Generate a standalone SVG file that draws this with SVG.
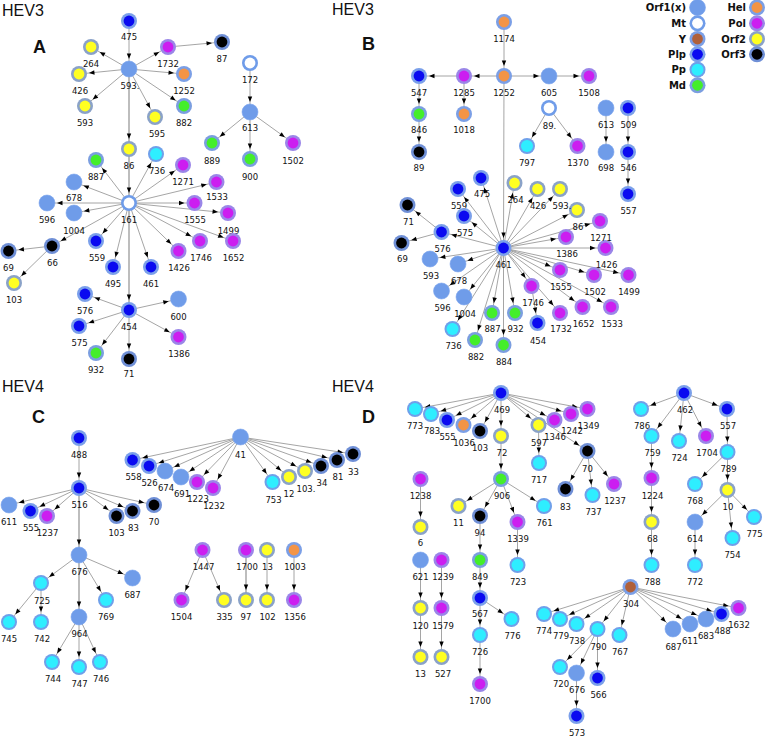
<svg xmlns="http://www.w3.org/2000/svg" xmlns:xlink="http://www.w3.org/1999/xlink" width="766" height="736" viewBox="0 0 766 736">
<style>
.lb{font-family:"DejaVu Sans",Verdana,sans-serif;font-size:8.5px;text-anchor:middle;fill:#111}
.lg{font-family:"DejaVu Sans",Verdana,sans-serif;font-size:10px;font-weight:bold;text-anchor:end;fill:#111}
.ttl{font-family:"Liberation Sans",Arial,sans-serif;font-size:16px;fill:#111}
.pl{font-family:"Liberation Sans",Arial,sans-serif;font-size:18px;font-weight:bold;fill:#111}
.e{stroke:#8e8e8e;stroke-width:0.8;fill:none;marker-end:url(#ah)}
.t{stroke:#bdbdbd;stroke-width:2}
</style>
<defs>
<marker id="ah" viewBox="0 0 20 6" refX="20" refY="3" markerWidth="20" markerHeight="6" markerUnits="userSpaceOnUse" orient="auto"><path d="M4.5,0.8 L10,3 L4.5,5.2 z" fill="#000"/></marker>
<g id="s-orf1"><circle r="8" fill="#6f9ce9" stroke="#7ea6ee" stroke-width="0.6"/></g>
<g id="s-mt"><circle r="8" fill="#6f9ce9"/><circle r="5.4" fill="#fff"/></g>
<g id="s-y"><circle r="8" fill="#7b9fe6"/><circle r="5.4" fill="#b0603a"/></g>
<g id="s-plp"><circle r="8" fill="#7ba0ea"/><circle r="5.4" fill="#0a0af0"/></g>
<g id="s-pp"><circle r="8" fill="#6fa0ea"/><circle r="6" fill="#2eeeff"/></g>
<g id="s-md"><circle r="8" fill="#7b9ee0"/><circle r="5.4" fill="#44ee2a"/></g>
<g id="s-hel"><circle r="8" fill="#7b9fe6"/><circle r="5.4" fill="#f39446"/></g>
<g id="s-pol"><circle r="8" fill="#9a86e8"/><circle r="5.4" fill="#cc1ef0"/></g>
<g id="s-orf2"><circle r="8" fill="#8aa2c8"/><circle r="5.4" fill="#ffff22"/></g>
<g id="s-orf3"><circle r="8" fill="#6f8fd6"/><circle r="5.4" fill="#000"/></g>
</defs>
<rect width="766" height="736" fill="#fff"/>

<g id="titles">
<text class="ttl" x="2" y="16">HEV3</text><text class="pl" x="33" y="53">A</text>
<text class="ttl" x="332" y="15">HEV3</text><text class="pl" x="362" y="50">B</text>
<text class="ttl" x="2" y="392">HEV4</text><text class="pl" x="32" y="423">C</text>
<text class="ttl" x="332" y="392">HEV4</text><text class="pl" x="362" y="423">D</text>
</g>

<g id="legend">
<text class="lg" x="686" y="11">Orf1(x)</text><use href="#s-orf1" x="697.5" y="7.5"/>
<text class="lg" x="686" y="27">Mt</text><use href="#s-mt" x="697.5" y="23.3"/>
<text class="lg" x="686" y="42.7">Y</text><use href="#s-y" x="697.5" y="39"/>
<text class="lg" x="686" y="58">Plp</text><use href="#s-plp" x="697.5" y="54.3"/>
<text class="lg" x="686" y="73.4">Pp</text><use href="#s-pp" x="697.5" y="69.7"/>
<text class="lg" x="686" y="89">Md</text><use href="#s-md" x="697.5" y="85.3"/>
<text class="lg" x="746" y="11">Hel</text><use href="#s-hel" x="757" y="7.5"/>
<text class="lg" x="746" y="27">Pol</text><use href="#s-pol" x="757" y="23.3"/>
<text class="lg" x="746" y="42.7">Orf2</text><use href="#s-orf2" x="757" y="39"/>
<text class="lg" x="746" y="58">Orf3</text><use href="#s-orf3" x="757" y="54.3"/>
</g>

<g id="connectors">
<!-- A -->
<path class="e" d="M129,21 L129,69"/>
<path class="e" d="M129,69 L91,47"/>
<path class="e" d="M129,69 L79,74"/>
<path class="e" d="M129,69 L85,106"/>
<path class="e" d="M129,69 L155,117"/>
<path class="e" d="M129,69 L184,106"/>
<path class="e" d="M129,69 L184,74"/>
<path class="e" d="M129,69 L168,47"/>
<path class="e t" d="M129,69 L129,149"/>
<path class="e" d="M168,47 L222,42"/>
<path class="e" d="M250,63 L250,112"/>
<path class="e" d="M250,112 L212,143"/>
<path class="e" d="M250,112 L250,159"/>
<path class="e" d="M250,112 L293,143"/>
<path class="e t" d="M129,149 L129,203"/>
<path class="e" d="M129,203 L96,160"/>
<path class="e" d="M129,203 L156,154"/>
<path class="e" d="M129,203 L183,165"/>
<path class="e" d="M129,203 L216.5,182"/>
<path class="e" d="M129,203 L74,182"/>
<path class="e" d="M129,203 L47,203"/>
<path class="e" d="M129,203 L74,213"/>
<path class="e" d="M129,203 L194.5,203"/>
<path class="e" d="M129,203 L228,213"/>
<path class="e" d="M129,203 L52,246"/>
<path class="e" d="M129,203 L96,241"/>
<path class="e" d="M129,203 L113,267"/>
<path class="e" d="M129,203 L151,267"/>
<path class="e" d="M129,203 L178.5,251"/>
<path class="e" d="M129,203 L200,241"/>
<path class="e" d="M129,203 L233,241"/>
<path class="e t" d="M129,203 L129,310"/>
<path class="e" d="M52,246 L8.5,251"/>
<path class="e" d="M52,246 L14,283"/>
<path class="e" d="M129,310 L85,294"/>
<path class="e" d="M129,310 L178.5,299"/>
<path class="e" d="M129,310 L79,326"/>
<path class="e" d="M129,310 L178.5,337"/>
<path class="e" d="M129,310 L96,353"/>
<path class="e" d="M129,310 L129,359"/>
<!-- B -->
<path class="e" d="M504,22 L504,76"/>
<path class="e" d="M504,76 L464,76"/>
<path class="e" d="M464,76 L419,76"/>
<path class="e" d="M504,76 L549,76"/>
<path class="e" d="M549,76 L589,76"/>
<path class="e" d="M419,76 L419,114"/>
<path class="e" d="M419,114 L419,152"/>
<path class="e" d="M464,76 L464,114"/>
<path class="e" d="M549,108 L527,146"/>
<path class="e" d="M549,108 L577.5,146"/>
<path class="e" d="M606,108 L606,152"/>
<path class="e" d="M628,108 L628,152"/>
<path class="e" d="M628,152 L628,194"/>
<path class="e" d="M504,76 L503.5,248"/>
<path class="e" d="M503.5,248 L481,178"/>
<path class="e" d="M503.5,248 L458,189"/>
<path class="e" d="M503.5,248 L464,216"/>
<path class="e" d="M503.5,248 L441.5,232"/>
<path class="e" d="M503.5,248 L430,259"/>
<path class="e" d="M503.5,248 L458,264"/>
<path class="e" d="M503.5,248 L441.5,291"/>
<path class="e" d="M503.5,248 L464,297"/>
<path class="e" d="M503.5,248 L452.5,329"/>
<path class="e" d="M503.5,248 L475,340"/>
<path class="e" d="M503.5,248 L503.5,345"/>
<path class="e" d="M503.5,248 L492,313"/>
<path class="e" d="M503.5,248 L515,313"/>
<path class="e" d="M503.5,248 L531.5,286"/>
<path class="e" d="M503.5,248 L560,313"/>
<path class="e" d="M503.5,248 L582.5,307"/>
<path class="e" d="M503.5,248 L611,307"/>
<path class="e" d="M503.5,248 L560,270"/>
<path class="e" d="M503.5,248 L594,275"/>
<path class="e" d="M503.5,248 L628.5,275"/>
<path class="e" d="M503.5,248 L605.5,248"/>
<path class="e" d="M503.5,248 L566,237"/>
<path class="e" d="M503.5,248 L600,221"/>
<path class="e" d="M503.5,248 L577,210"/>
<path class="e" d="M503.5,248 L560,189"/>
<path class="e" d="M503.5,248 L537.5,189"/>
<path class="e" d="M503.5,248 L514.5,183"/>
<path class="e" d="M441.5,232 L407.5,205"/>
<path class="e" d="M441.5,232 L401.5,243"/>
<path class="e" d="M531.5,286 L537.5,323"/>
<!-- C -->
<path class="e" d="M79,438 L79,488"/>
<path class="e" d="M79,488 L9,505"/>
<path class="e" d="M79,488 L30.5,511"/>
<path class="e" d="M79,488 L47,516"/>
<path class="e" d="M79,488 L116.5,516"/>
<path class="e" d="M79,488 L132.5,511"/>
<path class="e" d="M79,488 L154,505"/>
<path class="e t" d="M79,488 L79,555"/>
<path class="e" d="M79,555 L41,583"/>
<path class="e" d="M79,555 L132.5,578"/>
<path class="e" d="M79,555 L106,600"/>
<path class="e t" d="M79,555 L79,617"/>
<path class="e" d="M41,583 L9,622"/>
<path class="e" d="M41,583 L41,622"/>
<path class="e" d="M79,617 L52,662"/>
<path class="e" d="M79,617 L79,667"/>
<path class="e" d="M79,617 L100,662"/>
<path class="e" d="M240.5,437 L132.5,460"/>
<path class="e" d="M240.5,437 L149,466"/>
<path class="e" d="M240.5,437 L165,471"/>
<path class="e" d="M240.5,437 L181,477"/>
<path class="e" d="M240.5,437 L197,482"/>
<path class="e" d="M240.5,437 L213,488"/>
<path class="e" d="M240.5,437 L272.5,482"/>
<path class="e" d="M240.5,437 L289,477"/>
<path class="e" d="M240.5,437 L305,471"/>
<path class="e" d="M240.5,437 L321,466"/>
<path class="e" d="M240.5,437 L337,460"/>
<path class="e" d="M240.5,437 L353,454"/>
<path class="e" d="M202.5,550 L181.5,600"/>
<path class="e" d="M202.5,550 L224,600"/>
<path class="e t" d="M246,550 L246,600"/>
<path class="e" d="M267,550 L267,600"/>
<path class="e" d="M294,550 L294,600"/>
<!-- D -->
<path class="e" d="M501,393 L415,409"/>
<path class="e" d="M501,393 L431,414"/>
<path class="e" d="M501,393 L447,420"/>
<path class="e" d="M501,393 L463.5,425"/>
<path class="e" d="M501,393 L480,431"/>
<path class="e" d="M501,393 L501,436"/>
<path class="e" d="M501,393 L538.5,425"/>
<path class="e" d="M501,393 L554.5,420"/>
<path class="e" d="M501,393 L571,414"/>
<path class="e" d="M501,393 L587.5,409"/>
<path class="e" d="M501,393 L587.5,451"/>
<path class="e" d="M538.5,425 L539,463"/>
<path class="e" d="M587.5,451 L565.5,489"/>
<path class="e" d="M587.5,451 L592.5,495"/>
<path class="e" d="M587.5,451 L614,484"/>
<path class="e" d="M501,436 L501,479"/>
<path class="e" d="M501,479 L458.5,506"/>
<path class="e" d="M501,479 L480,516"/>
<path class="e" d="M501,479 L517.5,522"/>
<path class="e" d="M501,479 L544,506"/>
<path class="e" d="M480,516 L480,560"/>
<path class="e" d="M480,560 L480,598"/>
<path class="e" d="M480,598 L511.5,619"/>
<path class="e" d="M480,598 L480,635"/>
<path class="e" d="M480,635 L480,684"/>
<path class="e" d="M517.5,522 L517.5,565"/>
<path class="e" d="M420.5,479 L420.5,527"/>
<path class="e" d="M420.5,560 L420.5,608"/>
<path class="e" d="M420.5,608 L420.5,657"/>
<path class="e" d="M441.5,560 L441.5,608"/>
<path class="e" d="M441.5,608 L441.5,657"/>
<path class="e" d="M684,393 L641,409"/>
<path class="e" d="M684,393 L651.5,436"/>
<path class="e" d="M684,393 L679,441"/>
<path class="e" d="M684,393 L706,436"/>
<path class="e" d="M684,393 L727,409"/>
<path class="e" d="M727,409 L727.5,452"/>
<path class="e" d="M727.5,452 L695,484"/>
<path class="e" d="M727.5,452 L727.5,490"/>
<path class="e" d="M727.5,490 L695,522"/>
<path class="e" d="M727.5,490 L732.5,538"/>
<path class="e" d="M727.5,490 L754,517"/>
<path class="e" d="M695,522 L695,565"/>
<path class="e" d="M651.5,436 L651.5,478"/>
<path class="e" d="M651.5,478 L651.5,522"/>
<path class="e" d="M651.5,522 L651.5,565"/>
<path class="e" d="M630.5,587 L544,614"/>
<path class="e" d="M630.5,587 L560,619"/>
<path class="e" d="M630.5,587 L576.5,624"/>
<path class="e" d="M630.5,587 L597.5,629"/>
<path class="e" d="M630.5,587 L619.5,635"/>
<path class="e" d="M630.5,587 L673,629"/>
<path class="e" d="M630.5,587 L690,624"/>
<path class="e" d="M630.5,587 L706,619"/>
<path class="e" d="M630.5,587 L721.5,614"/>
<path class="e" d="M630.5,587 L738.5,608"/>
<path class="e" d="M597.5,629 L560,667"/>
<path class="e" d="M597.5,629 L576.5,673"/>
<path class="e" d="M597.5,629 L597.5,678"/>
<path class="e" d="M576.5,673 L576.5,716"/>
</g>

<g id="nodes-A">
<g id="A-475"><use href="#s-plp" x="129" y="21"/><text class="lb" x="129" y="40">475</text></g>
<g id="A-593dot"><use href="#s-orf1" x="129" y="69"/><text class="lb" x="130" y="89">593.</text></g>
<g id="A-264"><use href="#s-orf2" x="91" y="47"/><text class="lb" x="91" y="67">264</text></g>
<g id="A-426"><use href="#s-orf2" x="79" y="74"/><text class="lb" x="80" y="94">426</text></g>
<g id="A-593"><use href="#s-orf2" x="85" y="106"/><text class="lb" x="85" y="126">593</text></g>
<g id="A-595"><use href="#s-orf2" x="155" y="117"/><text class="lb" x="157" y="137">595</text></g>
<g id="A-882"><use href="#s-md" x="184" y="106"/><text class="lb" x="184" y="126">882</text></g>
<g id="A-1252"><use href="#s-hel" x="184" y="74"/><text class="lb" x="184" y="94">1252</text></g>
<g id="A-1732"><use href="#s-pol" x="168" y="47"/><text class="lb" x="168" y="67">1732</text></g>
<g id="A-87"><use href="#s-orf3" x="222" y="42"/><text class="lb" x="222" y="62">87</text></g>
<g id="A-172"><use href="#s-mt" x="250" y="63"/><text class="lb" x="250" y="83">172</text></g>
<g id="A-613"><use href="#s-orf1" x="250" y="112"/><text class="lb" x="250" y="131">613</text></g>
<g id="A-889"><use href="#s-md" x="212" y="143"/><text class="lb" x="212" y="163.5">889</text></g>
<g id="A-900"><use href="#s-md" x="250" y="159"/><text class="lb" x="250" y="179.5">900</text></g>
<g id="A-1502"><use href="#s-pol" x="293" y="143"/><text class="lb" x="293" y="163.5">1502</text></g>
<g id="A-86"><use href="#s-orf2" x="129" y="149"/><text class="lb" x="129" y="168.5">86</text></g>
<g id="A-736"><use href="#s-pp" x="156" y="154"/><text class="lb" x="157" y="173.5">736</text></g>
<g id="A-887"><use href="#s-md" x="96" y="160"/><text class="lb" x="96" y="179.5">887</text></g>
<g id="A-1271"><use href="#s-pol" x="183" y="165"/><text class="lb" x="183" y="185">1271</text></g>
<g id="A-1533"><use href="#s-pol" x="216.5" y="182"/><text class="lb" x="217" y="200">1533</text></g>
<g id="A-678"><use href="#s-orf1" x="74" y="182"/><text class="lb" x="74" y="201">678</text></g>
<g id="A-161"><use href="#s-mt" x="129" y="203"/><text class="lb" x="129" y="223">161</text></g>
<g id="A-596"><use href="#s-orf1" x="47" y="203"/><text class="lb" x="47" y="223">596</text></g>
<g id="A-1004"><use href="#s-orf1" x="74" y="213"/><text class="lb" x="74" y="233.5">1004</text></g>
<g id="A-1555"><use href="#s-pol" x="194.5" y="203"/><text class="lb" x="195" y="223">1555</text></g>
<g id="A-1499"><use href="#s-pol" x="228" y="213"/><text class="lb" x="228.5" y="233.5">1499</text></g>
<g id="A-66"><use href="#s-orf3" x="52" y="246"/><text class="lb" x="52.5" y="265.5">66</text></g>
<g id="A-69"><use href="#s-orf3" x="8.5" y="251"/><text class="lb" x="8.5" y="271">69</text></g>
<g id="A-103"><use href="#s-orf2" x="14" y="283"/><text class="lb" x="14" y="303">103</text></g>
<g id="A-559"><use href="#s-plp" x="96" y="241"/><text class="lb" x="97" y="260.5">559</text></g>
<g id="A-495"><use href="#s-plp" x="113" y="267"/><text class="lb" x="113" y="287">495</text></g>
<g id="A-461"><use href="#s-plp" x="151" y="267"/><text class="lb" x="151" y="287">461</text></g>
<g id="A-1426"><use href="#s-pol" x="178.5" y="251"/><text class="lb" x="179" y="271">1426</text></g>
<g id="A-1746"><use href="#s-pol" x="200" y="241"/><text class="lb" x="201" y="260.5">1746</text></g>
<g id="A-1652"><use href="#s-pol" x="233" y="241"/><text class="lb" x="233.5" y="260.5">1652</text></g>
<g id="A-454"><use href="#s-plp" x="129" y="310"/><text class="lb" x="129" y="329.5">454</text></g>
<g id="A-576"><use href="#s-plp" x="85" y="294"/><text class="lb" x="85" y="314">576</text></g>
<g id="A-600"><use href="#s-orf1" x="178.5" y="299"/><text class="lb" x="178.5" y="319.5">600</text></g>
<g id="A-575"><use href="#s-plp" x="79" y="326"/><text class="lb" x="79.5" y="346">575</text></g>
<g id="A-1386"><use href="#s-pol" x="178.5" y="337"/><text class="lb" x="179" y="357">1386</text></g>
<g id="A-932"><use href="#s-md" x="96" y="353"/><text class="lb" x="96" y="373">932</text></g>
<g id="A-71"><use href="#s-orf3" x="129" y="359"/><text class="lb" x="129" y="377">71</text></g>
</g>

<g id="nodes-B">
<g id="B-1174"><use href="#s-hel" x="504" y="22"/><text class="lb" x="504" y="41.5">1174</text></g>
<g id="B-1252"><use href="#s-hel" x="504" y="76"/><text class="lb" x="504" y="95.5">1252</text></g>
<g id="B-1285"><use href="#s-pol" x="464" y="76"/><text class="lb" x="464" y="95.5">1285</text></g>
<g id="B-547"><use href="#s-plp" x="419" y="76"/><text class="lb" x="419" y="95.5">547</text></g>
<g id="B-605"><use href="#s-orf1" x="549" y="76"/><text class="lb" x="549" y="95.5">605</text></g>
<g id="B-1508"><use href="#s-pol" x="589" y="76"/><text class="lb" x="589" y="95.5">1508</text></g>
<g id="B-846"><use href="#s-md" x="419" y="114"/><text class="lb" x="419" y="133">846</text></g>
<g id="B-1018"><use href="#s-hel" x="464" y="114"/><text class="lb" x="464" y="133">1018</text></g>
<g id="B-89"><use href="#s-orf3" x="419" y="152"/><text class="lb" x="419" y="171">89</text></g>
<g id="B-89dot"><use href="#s-mt" x="549" y="108"/><text class="lb" x="549.5" y="128.5">89.</text></g>
<g id="B-797"><use href="#s-pp" x="527" y="146"/><text class="lb" x="527" y="165.5">797</text></g>
<g id="B-1370"><use href="#s-pol" x="577.5" y="146"/><text class="lb" x="578" y="165.5">1370</text></g>
<g id="B-613"><use href="#s-orf1" x="606" y="108"/><text class="lb" x="606" y="128">613</text></g>
<g id="B-509"><use href="#s-plp" x="628" y="108"/><text class="lb" x="628.5" y="128">509</text></g>
<g id="B-698"><use href="#s-orf1" x="606" y="152"/><text class="lb" x="606" y="170.5">698</text></g>
<g id="B-546"><use href="#s-plp" x="628" y="152"/><text class="lb" x="628.5" y="170.5">546</text></g>
<g id="B-557"><use href="#s-plp" x="628" y="194"/><text class="lb" x="628.5" y="214">557</text></g>
<g id="B-475"><use href="#s-plp" x="481" y="178"/><text class="lb" x="482" y="197">475</text></g>
<g id="B-559"><use href="#s-plp" x="458" y="189"/><text class="lb" x="459" y="208.5">559</text></g>
<g id="B-575"><use href="#s-plp" x="464" y="216"/><text class="lb" x="465" y="235.5">575</text></g>
<g id="B-71"><use href="#s-orf3" x="407.5" y="205"/><text class="lb" x="408.5" y="224.5">71</text></g>
<g id="B-576"><use href="#s-plp" x="441.5" y="232"/><text class="lb" x="442.5" y="251.5">576</text></g>
<g id="B-69"><use href="#s-orf3" x="401.5" y="243"/><text class="lb" x="402.5" y="262">69</text></g>
<g id="B-593"><use href="#s-orf1" x="430" y="259"/><text class="lb" x="431" y="279">593</text></g>
<g id="B-678"><use href="#s-orf1" x="458" y="264"/><text class="lb" x="459" y="284">678</text></g>
<g id="B-596"><use href="#s-orf1" x="441.5" y="291"/><text class="lb" x="442.5" y="310.5">596</text></g>
<g id="B-1004"><use href="#s-orf1" x="464" y="297"/><text class="lb" x="465" y="316.5">1004</text></g>
<g id="B-736"><use href="#s-pp" x="452.5" y="329"/><text class="lb" x="453.5" y="348.5">736</text></g>
<g id="B-882"><use href="#s-md" x="475" y="340"/><text class="lb" x="476" y="359.5">882</text></g>
<g id="B-884"><use href="#s-md" x="503.5" y="345"/><text class="lb" x="504" y="364.5">884</text></g>
<g id="B-887"><use href="#s-md" x="492" y="313"/><text class="lb" x="492.5" y="332">887</text></g>
<g id="B-932"><use href="#s-md" x="515" y="313"/><text class="lb" x="515.5" y="332">932</text></g>
<g id="B-454"><use href="#s-plp" x="537.5" y="323"/><text class="lb" x="538" y="343.5">454</text></g>
<g id="B-461"><use href="#s-plp" x="503.5" y="248"/><text class="lb" x="503.5" y="268">461</text></g>
<g id="B-1746"><use href="#s-pol" x="531.5" y="286"/><text class="lb" x="533" y="305.5">1746</text></g>
<g id="B-1732"><use href="#s-pol" x="560" y="313"/><text class="lb" x="561" y="332">1732</text></g>
<g id="B-1652"><use href="#s-pol" x="582.5" y="307"/><text class="lb" x="583.5" y="327">1652</text></g>
<g id="B-1533"><use href="#s-pol" x="611" y="307"/><text class="lb" x="612" y="327">1533</text></g>
<g id="B-1555"><use href="#s-pol" x="560" y="270"/><text class="lb" x="561" y="289.5">1555</text></g>
<g id="B-1502"><use href="#s-pol" x="594" y="275"/><text class="lb" x="595" y="294.5">1502</text></g>
<g id="B-1499"><use href="#s-pol" x="628.5" y="275"/><text class="lb" x="629" y="294.5">1499</text></g>
<g id="B-1426"><use href="#s-pol" x="605.5" y="248"/><text class="lb" x="606.5" y="268">1426</text></g>
<g id="B-1386"><use href="#s-pol" x="566" y="237"/><text class="lb" x="567" y="257">1386</text></g>
<g id="B-1271"><use href="#s-pol" x="600" y="221"/><text class="lb" x="601" y="241">1271</text></g>
<g id="B-86"><use href="#s-orf2" x="577" y="210"/><text class="lb" x="578" y="229.5">86</text></g>
<g id="B-593dot"><use href="#s-orf2" x="560" y="189"/><text class="lb" x="562" y="208.5">593.</text></g>
<g id="B-426"><use href="#s-orf2" x="537.5" y="189"/><text class="lb" x="538" y="208.5">426</text></g>
<g id="B-264"><use href="#s-orf2" x="514.5" y="183"/><text class="lb" x="515.5" y="203">264</text></g>
</g>

<g id="nodes-C">
<g id="C-488"><use href="#s-plp" x="79" y="438"/><text class="lb" x="79" y="458">488</text></g>
<g id="C-516"><use href="#s-plp" x="79" y="488"/><text class="lb" x="79.5" y="508">516</text></g>
<g id="C-611"><use href="#s-orf1" x="9" y="505"/><text class="lb" x="9" y="525">611</text></g>
<g id="C-555"><use href="#s-plp" x="30.5" y="511"/><text class="lb" x="31" y="530.5">555</text></g>
<g id="C-1237"><use href="#s-pol" x="47" y="516"/><text class="lb" x="47.5" y="536">1237</text></g>
<g id="C-103"><use href="#s-orf3" x="116.5" y="516"/><text class="lb" x="116.5" y="536">103</text></g>
<g id="C-83"><use href="#s-orf3" x="132.5" y="511"/><text class="lb" x="133.5" y="530.5">83</text></g>
<g id="C-70"><use href="#s-orf3" x="154" y="505"/><text class="lb" x="154" y="525">70</text></g>
<g id="C-676"><use href="#s-orf1" x="79" y="555"/><text class="lb" x="79.5" y="575">676</text></g>
<g id="C-725"><use href="#s-pp" x="41" y="583"/><text class="lb" x="42" y="603.5">725</text></g>
<g id="C-687"><use href="#s-orf1" x="132.5" y="578"/><text class="lb" x="132.5" y="598">687</text></g>
<g id="C-769"><use href="#s-pp" x="106" y="600"/><text class="lb" x="106" y="620">769</text></g>
<g id="C-964"><use href="#s-orf1" x="79" y="617"/><text class="lb" x="79.5" y="637">964</text></g>
<g id="C-745"><use href="#s-pp" x="9" y="622"/><text class="lb" x="9" y="642">745</text></g>
<g id="C-742"><use href="#s-pp" x="41" y="622"/><text class="lb" x="42" y="642">742</text></g>
<g id="C-744"><use href="#s-pp" x="52" y="662"/><text class="lb" x="53" y="682">744</text></g>
<g id="C-747"><use href="#s-pp" x="79" y="667"/><text class="lb" x="79.5" y="687">747</text></g>
<g id="C-746"><use href="#s-pp" x="100" y="662"/><text class="lb" x="101" y="682">746</text></g>
<g id="C-41"><use href="#s-orf1" x="240.5" y="437"/><text class="lb" x="240.5" y="457.5">41</text></g>
<g id="C-558"><use href="#s-plp" x="132.5" y="460"/><text class="lb" x="133.5" y="480">558</text></g>
<g id="C-526"><use href="#s-plp" x="149" y="466"/><text class="lb" x="149.5" y="485.5">526</text></g>
<g id="C-674"><use href="#s-orf1" x="165" y="471"/><text class="lb" x="166" y="491">674</text></g>
<g id="C-691"><use href="#s-orf1" x="181" y="477"/><text class="lb" x="182" y="497">691</text></g>
<g id="C-1223"><use href="#s-pol" x="197" y="482"/><text class="lb" x="198" y="502">1223</text></g>
<g id="C-1232"><use href="#s-pol" x="213" y="488"/><text class="lb" x="214" y="508.5">1232</text></g>
<g id="C-753"><use href="#s-pp" x="272.5" y="482"/><text class="lb" x="273.5" y="503">753</text></g>
<g id="C-12"><use href="#s-orf2" x="289" y="477"/><text class="lb" x="289" y="497">12</text></g>
<g id="C-103dot"><use href="#s-orf2" x="305" y="471"/><text class="lb" x="306" y="492">103.</text></g>
<g id="C-34"><use href="#s-orf3" x="321" y="466"/><text class="lb" x="322" y="485.5">34</text></g>
<g id="C-81"><use href="#s-orf3" x="337" y="460"/><text class="lb" x="338" y="480">81</text></g>
<g id="C-33"><use href="#s-orf3" x="353" y="454"/><text class="lb" x="353.5" y="474.5">33</text></g>
<g id="C-1447"><use href="#s-pol" x="202.5" y="550"/><text class="lb" x="203.5" y="569.5">1447</text></g>
<g id="C-1504"><use href="#s-pol" x="181.5" y="600"/><text class="lb" x="181.5" y="619.5">1504</text></g>
<g id="C-335"><use href="#s-orf2" x="224" y="600"/><text class="lb" x="224.5" y="619.5">335</text></g>
<g id="C-1700"><use href="#s-pol" x="246" y="550"/><text class="lb" x="247" y="569.5">1700</text></g>
<g id="C-13"><use href="#s-orf2" x="267" y="550"/><text class="lb" x="267.5" y="569.5">13</text></g>
<g id="C-1003"><use href="#s-hel" x="294" y="550"/><text class="lb" x="295" y="569.5">1003</text></g>
<g id="C-97"><use href="#s-orf2" x="246" y="600"/><text class="lb" x="246" y="619.5">97</text></g>
<g id="C-102"><use href="#s-orf2" x="267" y="600"/><text class="lb" x="267.5" y="619.5">102</text></g>
<g id="C-1356"><use href="#s-pol" x="294" y="600"/><text class="lb" x="295" y="619.5">1356</text></g>
</g>

<g id="nodes-D">
<g id="D-469"><use href="#s-plp" x="501" y="393"/><text class="lb" x="502" y="412.5">469</text></g>
<g id="D-773"><use href="#s-pp" x="415" y="409"/><text class="lb" x="415" y="429">773</text></g>
<g id="D-783"><use href="#s-pp" x="431" y="414"/><text class="lb" x="432" y="434">783</text></g>
<g id="D-555"><use href="#s-plp" x="447" y="420"/><text class="lb" x="447.5" y="439.5">555</text></g>
<g id="D-1036"><use href="#s-hel" x="463.5" y="425"/><text class="lb" x="464" y="445.5">1036</text></g>
<g id="D-103"><use href="#s-orf3" x="480" y="431"/><text class="lb" x="480" y="450.5">103</text></g>
<g id="D-72"><use href="#s-orf2" x="501" y="436"/><text class="lb" x="502" y="455.5">72</text></g>
<g id="D-597"><use href="#s-orf2" x="538.5" y="425"/><text class="lb" x="539" y="445.5">597</text></g>
<g id="D-1346"><use href="#s-pol" x="554.5" y="420"/><text class="lb" x="555" y="439.5">1346</text></g>
<g id="D-1242"><use href="#s-pol" x="571" y="414"/><text class="lb" x="572" y="434">1242</text></g>
<g id="D-1349"><use href="#s-pol" x="587.5" y="409"/><text class="lb" x="588.5" y="429">1349</text></g>
<g id="D-717"><use href="#s-pp" x="539" y="463"/><text class="lb" x="539" y="483">717</text></g>
<g id="D-70"><use href="#s-orf3" x="587.5" y="451"/><text class="lb" x="587.5" y="472">70</text></g>
<g id="D-83"><use href="#s-orf3" x="565.5" y="489"/><text class="lb" x="565.5" y="509.5">83</text></g>
<g id="D-737"><use href="#s-pp" x="592.5" y="495"/><text class="lb" x="593.5" y="515">737</text></g>
<g id="D-1237"><use href="#s-pol" x="614" y="484"/><text class="lb" x="615" y="504">1237</text></g>
<g id="D-906"><use href="#s-md" x="501" y="479"/><text class="lb" x="502" y="499">906</text></g>
<g id="D-11"><use href="#s-orf2" x="458.5" y="506"/><text class="lb" x="458.5" y="525.5">11</text></g>
<g id="D-94"><use href="#s-orf3" x="480" y="516"/><text class="lb" x="480" y="536">94</text></g>
<g id="D-1339"><use href="#s-pol" x="517.5" y="522"/><text class="lb" x="518" y="542">1339</text></g>
<g id="D-761"><use href="#s-pp" x="544" y="506"/><text class="lb" x="544.5" y="525.5">761</text></g>
<g id="D-1238"><use href="#s-pol" x="420.5" y="479"/><text class="lb" x="420.5" y="499">1238</text></g>
<g id="D-6"><use href="#s-orf2" x="420.5" y="527"/><text class="lb" x="420.5" y="546">6</text></g>
<g id="D-621"><use href="#s-orf1" x="420.5" y="560"/><text class="lb" x="420.5" y="579.5">621</text></g>
<g id="D-1239"><use href="#s-pol" x="441.5" y="560"/><text class="lb" x="443" y="579.5">1239</text></g>
<g id="D-849"><use href="#s-md" x="480" y="560"/><text class="lb" x="480" y="579.5">849</text></g>
<g id="D-723"><use href="#s-pp" x="517.5" y="565"/><text class="lb" x="518" y="585">723</text></g>
<g id="D-120"><use href="#s-orf2" x="420.5" y="608"/><text class="lb" x="420.5" y="628.5">120</text></g>
<g id="D-1579"><use href="#s-pol" x="441.5" y="608"/><text class="lb" x="443" y="628.5">1579</text></g>
<g id="D-13"><use href="#s-orf2" x="420.5" y="657"/><text class="lb" x="420.5" y="677">13</text></g>
<g id="D-527"><use href="#s-orf2" x="441.5" y="657"/><text class="lb" x="443" y="677">527</text></g>
<g id="D-567"><use href="#s-plp" x="480" y="598"/><text class="lb" x="480" y="617">567</text></g>
<g id="D-776"><use href="#s-pp" x="511.5" y="619"/><text class="lb" x="512.5" y="639">776</text></g>
<g id="D-726"><use href="#s-pp" x="480" y="635"/><text class="lb" x="480" y="655">726</text></g>
<g id="D-1700"><use href="#s-pol" x="480" y="684"/><text class="lb" x="480" y="704">1700</text></g>
<g id="D-462"><use href="#s-plp" x="684" y="393"/><text class="lb" x="685" y="412.5">462</text></g>
<g id="D-786"><use href="#s-pp" x="641" y="409"/><text class="lb" x="642" y="429">786</text></g>
<g id="D-557"><use href="#s-plp" x="727" y="409"/><text class="lb" x="728" y="429">557</text></g>
<g id="D-759"><use href="#s-pp" x="651.5" y="436"/><text class="lb" x="652.5" y="455.5">759</text></g>
<g id="D-724"><use href="#s-pp" x="679" y="441"/><text class="lb" x="679.5" y="461">724</text></g>
<g id="D-1704"><use href="#s-pol" x="706" y="436"/><text class="lb" x="707" y="455.5">1704</text></g>
<g id="D-789"><use href="#s-pp" x="727.5" y="452"/><text class="lb" x="728.5" y="472">789</text></g>
<g id="D-1224"><use href="#s-pol" x="651.5" y="478"/><text class="lb" x="652.5" y="499">1224</text></g>
<g id="D-768"><use href="#s-pp" x="695" y="484"/><text class="lb" x="695" y="504">768</text></g>
<g id="D-10"><use href="#s-orf2" x="727.5" y="490"/><text class="lb" x="728" y="509.5">10</text></g>
<g id="D-68"><use href="#s-orf2" x="651.5" y="522"/><text class="lb" x="652.5" y="542">68</text></g>
<g id="D-614"><use href="#s-orf1" x="695" y="522"/><text class="lb" x="695" y="542">614</text></g>
<g id="D-775"><use href="#s-pp" x="754" y="517"/><text class="lb" x="754.5" y="536.5">775</text></g>
<g id="D-754"><use href="#s-pp" x="732.5" y="538"/><text class="lb" x="732.5" y="558">754</text></g>
<g id="D-788"><use href="#s-pp" x="651.5" y="565"/><text class="lb" x="652.5" y="584.5">788</text></g>
<g id="D-772"><use href="#s-pp" x="695" y="565"/><text class="lb" x="695" y="584.5">772</text></g>
<g id="D-304"><use href="#s-y" x="630.5" y="587"/><text class="lb" x="631" y="606.5">304</text></g>
<g id="D-774"><use href="#s-pp" x="544" y="614"/><text class="lb" x="544" y="634">774</text></g>
<g id="D-779"><use href="#s-pp" x="560" y="619"/><text class="lb" x="561" y="639">779</text></g>
<g id="D-738"><use href="#s-pp" x="576.5" y="624"/><text class="lb" x="577" y="644">738</text></g>
<g id="D-790"><use href="#s-pp" x="597.5" y="629"/><text class="lb" x="598.5" y="649.5">790</text></g>
<g id="D-767"><use href="#s-pp" x="619.5" y="635"/><text class="lb" x="620" y="655">767</text></g>
<g id="D-687"><use href="#s-orf1" x="673" y="629"/><text class="lb" x="673.5" y="649.5">687</text></g>
<g id="D-611"><use href="#s-orf1" x="690" y="624"/><text class="lb" x="690" y="644">611</text></g>
<g id="D-683"><use href="#s-orf1" x="706" y="619"/><text class="lb" x="706" y="639">683</text></g>
<g id="D-488"><use href="#s-plp" x="721.5" y="614"/><text class="lb" x="722.5" y="634">488</text></g>
<g id="D-1632"><use href="#s-pol" x="738.5" y="608"/><text class="lb" x="739" y="628">1632</text></g>
<g id="D-720"><use href="#s-pp" x="560" y="667"/><text class="lb" x="561" y="687">720</text></g>
<g id="D-676"><use href="#s-orf1" x="576.5" y="673"/><text class="lb" x="577" y="692.5">676</text></g>
<g id="D-566"><use href="#s-plp" x="597.5" y="678"/><text class="lb" x="598.5" y="698">566</text></g>
<g id="D-573"><use href="#s-plp" x="576.5" y="716"/><text class="lb" x="577" y="735.5">573</text></g>
</g>
</svg>
